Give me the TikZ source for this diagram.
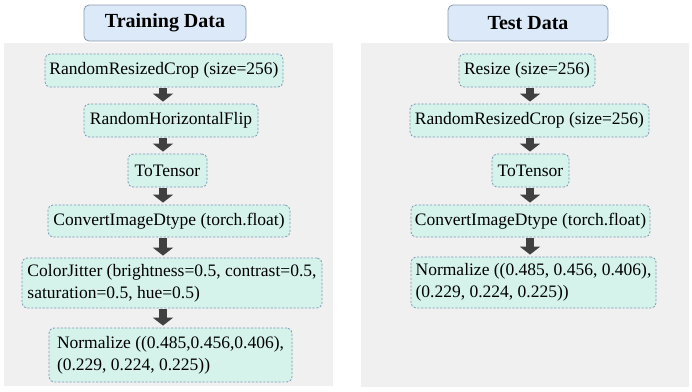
\documentclass[tikz,border=0pt]{standalone}
\usepackage{fontspec}
\setmainfont{Liberation Serif}
\usetikzlibrary{arrows.meta}
\definecolor{panelgrey}{HTML}{F0F0F0}
\definecolor{nodefill}{HTML}{D5F3EA}
\definecolor{nodeborder}{HTML}{7A9AB8}
\definecolor{titlefill}{HTML}{DCE9F8}
\definecolor{titleborder}{HTML}{8A98A8}
\definecolor{arrowgrey}{HTML}{404040}
\tikzset{
  panel/.style={fill=panelgrey, draw=none},
  titlebox/.style={draw=titleborder, fill=titlefill, rounded corners=5pt, line width=0.8pt,
    font=\fontsize{20}{24}\selectfont\bfseries, inner sep=0pt},
  opbox/.style={draw=nodeborder, fill=nodefill, rounded corners=5pt, line width=0.8pt,
    dash pattern=on 2.2pt off 1.6pt, font=\fontsize{17.5}{22}\selectfont,
    align=left, inner sep=0pt},
  blockarrow/.style={draw=arrowgrey, line width=8pt,
    -{Triangle[width=20pt,length=8pt]}, shorten <=1pt, shorten >=2pt}
}
\begin{document}
\begin{tikzpicture}[x=1pt,y=-1pt]
\useasboundingbox (0,0) rectangle (692,391);
% panels
\fill[panel] (4,43) rectangle (333,386);
\fill[panel] (361,43) rectangle (689,387);
% titles
\node[titlebox, minimum width=162pt, minimum height=36pt] (tl) at (165,23) {Training Data};
\node[titlebox, minimum width=160pt, minimum height=36pt] (tr) at (528,23) {Test Data};
% left column
\coordinate (ax) at (163,0);
\node[opbox, minimum width=238pt, minimum height=33pt] (l1) at (164,70.5) {RandomResizedCrop (size=256)};
\node[opbox, minimum width=174pt, minimum height=33pt] (l2) at (171,120.5) {RandomHorizontalFlip};
\node[opbox, minimum width=79pt, minimum height=33pt] (l3) at (167.5,170.5) {ToTensor};
\node[opbox, minimum width=242pt, minimum height=32pt] (l4) at (169,221) {ConvertImageDtype (torch.float)};
\node[opbox, minimum width=300pt, minimum height=50pt] (l5) at (172,283) {ColorJitter (brightness=0.5, contrast=0.5,\\saturation=0.5, hue=0.5)};
\node[opbox, minimum width=243pt, minimum height=54pt] (l6) at (170.5,355) {Normalize ((0.485,0.456,0.406),\\(0.229, 0.224, 0.225))};
\draw[blockarrow] (l1.south -| ax) -- (l2.north -| ax);
\draw[blockarrow] (l2.south -| ax) -- (l3.north -| ax);
\draw[blockarrow] (l3.south -| ax) -- (l4.north -| ax);
\draw[blockarrow] (l4.south -| ax) -- (l5.north -| ax);
\draw[blockarrow] (l5.south -| ax) -- (l6.north -| ax);
% right column
\coordinate (bx) at (530,0);
\node[opbox, minimum width=136pt, minimum height=33pt] (r1) at (527,70.5) {Resize (size=256)};
\node[opbox, minimum width=239pt, minimum height=33pt] (r2) at (529.5,120.5) {RandomResizedCrop (size=256)};
\node[opbox, minimum width=77pt, minimum height=33pt] (r3) at (530.5,170.5) {ToTensor};
\node[opbox, minimum width=239pt, minimum height=32pt] (r4) at (530.5,221) {ConvertImageDtype (torch.float)};
\node[opbox, minimum width=245pt, minimum height=51pt] (r5) at (533.5,282.5) {Normalize ((0.485, 0.456, 0.406),\\(0.229, 0.224, 0.225))};
\draw[blockarrow] (r1.south -| bx) -- (r2.north -| bx);
\draw[blockarrow] (r2.south -| bx) -- (r3.north -| bx);
\draw[blockarrow] (r3.south -| bx) -- (r4.north -| bx);
\draw[blockarrow] (r4.south -| bx) -- (r5.north -| bx);
\end{tikzpicture}
\end{document}
